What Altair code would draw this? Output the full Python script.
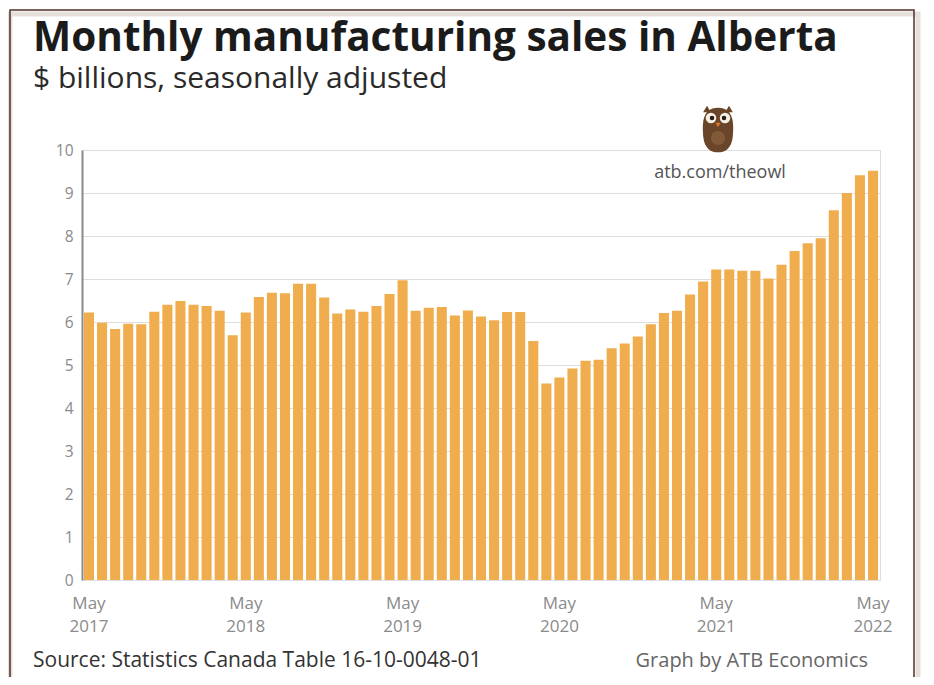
import altair as alt
import pandas as pd

month_names = ["Jan", "Feb", "Mar", "Apr", "May", "Jun", "Jul", "Aug", "Sep", "Oct", "Nov", "Dec"]
start_year = 2017
start_month = 4  # May (0-based)
sales = [6.22, 5.98, 5.84, 5.96, 5.95, 6.24, 6.40, 6.49, 6.40, 6.37,
         6.26, 5.69, 6.22, 6.58, 6.68, 6.67, 6.89, 6.89, 6.57, 6.20,
         6.29, 6.24, 6.37, 6.65, 6.97, 6.26, 6.33, 6.35, 6.15, 6.27,
         6.13, 6.04, 6.23, 6.23, 5.56, 4.57, 4.71, 4.92, 5.10, 5.12,
         5.39, 5.50, 5.66, 5.95, 6.21, 6.26, 6.64, 6.94, 7.22, 7.22,
         7.19, 7.19, 7.01, 7.33, 7.65, 7.83, 7.95, 8.60, 9.00, 9.41, 9.52]
y_ticks = [0, 1, 2, 3, 4, 5, 6, 7, 8, 9, 10]

title_text = "Monthly manufacturing sales in Alberta"
subtitle_text = "$ billions, seasonally adjusted"
source_text = "Source: Statistics Canada Table 16-10-0048-01"
credit_text = "Graph by ATB Economics"
owl_text = "atb.com/theowl"

labels = []
for i in range(len(sales)):
    m = (start_month + i) % 12
    y = start_year + (start_month + i) // 12
    labels.append(f"{month_names[m]} {y}")

df = pd.DataFrame({"month": labels, "sales": sales})
one = pd.DataFrame({"k": [0]})

W, H = 798, 430
FONT = "Open Sans"

bars = alt.Chart(df).mark_bar(color="#F0AD4E").encode(
    x=alt.X("month:N", sort=labels, title=None,
            scale=alt.Scale(paddingInner=0.23, paddingOuter=0.15),
            axis=alt.Axis(
                labelExpr="indexof(datum.value, 'May') == 0 ? split(datum.value, ' ') : ''",
                labelAngle=0, ticks=False, domain=False, labelColor="#8a8a8a",
                labelFontSize=17, labelFont=FONT, labelPadding=15, labelLineHeight=23,
                labelOverlap=False, labelBound=False, labelFlush=False)),
    y=alt.Y("sales:Q", title=None,
            scale=alt.Scale(domain=[0, 10], nice=False),
            axis=alt.Axis(values=y_ticks, ticks=False, domainColor="#8a8a8a", domainWidth=2,
                          labelColor="#8a8a8a", labelFontSize=15.5, labelFont=FONT,
                          labelPadding=9, gridColor="#dedede", gridWidth=1)),
)

def txt(text, x, y, size, color, weight="normal", align="left"):
    return alt.Chart(one).mark_text(
        text=text, font=FONT, fontSize=size, color=color, fontWeight=weight,
        align=align, baseline="alphabetic"
    ).encode(x=alt.value(x), y=alt.value(y))

# card frame (page coords -> plot coords: x-82, y-150)
shadow = alt.Chart(one).mark_rect(fillOpacity=0, stroke="#e6e0dd", strokeWidth=5).encode(
    x=alt.value(-72), x2=alt.value(836), y=alt.value(-136), y2=alt.value(610))
frame = alt.Chart(one).mark_rect(fillOpacity=0, stroke="#4d3226", strokeWidth=1.5).encode(
    x=alt.value(-72), x2=alt.value(832), y=alt.value(-140), y2=alt.value(600))

title = txt(title_text, -49, -99, 40.5, "#1b1b1b", "bold")
subtitle = txt(subtitle_text, -49, -62, 30, "#2a2a2a")
source = txt(source_text, -49, 517, 21, "#333333")
credit = txt(credit_text, 786, 517, 20, "#666666", align="right")
owl_url = txt(owl_text, 638, 28, 18, "#555555", align="center")

ox, oy = 636, -22
body_path = "M0,-1 C0.75,-1 0.7,-0.2 0.66,0.3 C0.6,0.85 0.3,1 0,1 C-0.3,1 -0.6,0.85 -0.66,0.3 C-0.7,-0.2 -0.75,-1 0,-1 Z"
owl_body = alt.Chart(one).mark_point(shape=body_path, filled=True, color="#6b4529", size=2000, opacity=1).encode(
    x=alt.value(ox), y=alt.value(oy + 2))
ear_l = alt.Chart(one).mark_point(shape="triangle-up", filled=True, color="#6b4529", size=60, opacity=1).encode(
    x=alt.value(ox - 11), y=alt.value(oy - 19))
ear_r = alt.Chart(one).mark_point(shape="triangle-up", filled=True, color="#6b4529", size=60, opacity=1).encode(
    x=alt.value(ox + 11), y=alt.value(oy - 19))
eye_l = alt.Chart(one).mark_point(shape="circle", filled=True, color="#f4efe6", size=110, opacity=1).encode(
    x=alt.value(ox - 7), y=alt.value(oy - 10))
eye_r = alt.Chart(one).mark_point(shape="circle", filled=True, color="#f4efe6", size=110, opacity=1).encode(
    x=alt.value(ox + 7), y=alt.value(oy - 10))
pup_l = alt.Chart(one).mark_point(shape="circle", filled=True, color="#2a1a10", size=20, opacity=1).encode(
    x=alt.value(ox - 6), y=alt.value(oy - 10))
pup_r = alt.Chart(one).mark_point(shape="circle", filled=True, color="#2a1a10", size=20, opacity=1).encode(
    x=alt.value(ox + 6), y=alt.value(oy - 10))
beak = alt.Chart(one).mark_point(shape="triangle-down", filled=True, color="#e07a2a", size=25, opacity=1).encode(
    x=alt.value(ox), y=alt.value(oy - 3))
belly = alt.Chart(one).mark_point(shape="circle", filled=True, color="#8a5f3c", size=200, opacity=0.8).encode(
    x=alt.value(ox), y=alt.value(oy + 10))

chart = alt.layer(
    shadow, frame, bars, title, subtitle, source, credit, owl_url,
    owl_body, belly, ear_l, ear_r, eye_l, eye_r, pup_l, pup_r, beak
).properties(
    width=W, height=H,
    autosize=alt.AutoSizeParams(type="none"),
    padding={"left": 74, "top": 142, "right": 46, "bottom": 97},
).configure_view(stroke=None).configure(background="white")

chart.save("out.html", embed_options={"renderer": "svg", "actions": False})
